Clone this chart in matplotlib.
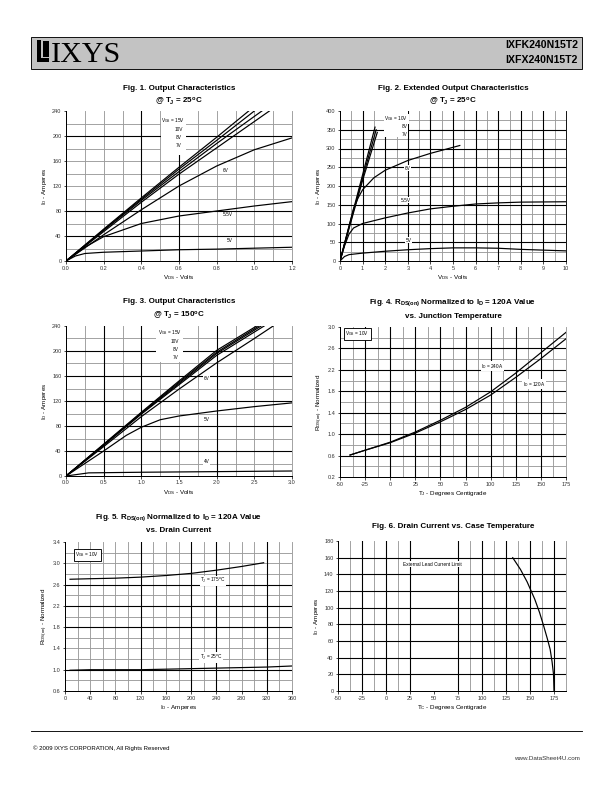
import numpy as np
import matplotlib
matplotlib.use("Agg")
import matplotlib.pyplot as plt
from matplotlib import font_manager
from matplotlib.patches import Rectangle

W, H = 612, 792

names = {f.name for f in font_manager.fontManager.ttflist}
NARROW = 'Liberation Sans Narrow' in names
SANS = 'Liberation Sans Narrow' if NARROW else 'Liberation Sans'
plt.rcParams['font.family'] = [SANS, 'Liberation Sans', 'DejaVu Sans']
plt.rcParams['mathtext.fontset'] = 'custom'
plt.rcParams['mathtext.rm'] = 'Liberation Sans'
plt.rcParams['mathtext.default'] = 'regular'

########## data ##########

# Fig 1 - output characteristics, Tj = 25C
f1_vds = {
    '15V': [0, 0.2, 0.4, 0.6, 0.8, 0.97],
    '10V': [0, 0.2, 0.4, 0.6, 0.8, 1.0],
    '8V': [0, 0.2, 0.4, 0.6, 0.8, 1.04],
    '7V': [0, 0.2, 0.4, 0.6, 0.8, 1.08],
    '6V': [0, 0.2, 0.4, 0.6, 0.8, 1.0, 1.2],
    '5.5V': [0, 0.1, 0.2, 0.4, 0.6, 0.8, 1.0, 1.2],
    '5V': [0, 0.05, 0.1, 0.2, 0.4, 0.6, 0.8, 1.0, 1.2],
}
f1_id = {
    '15V': [0, 51, 101, 150, 198, 240],
    '10V': [0, 50, 99, 147, 193, 240],
    '8V': [0, 49, 97, 143, 188, 240],
    '7V': [0, 47, 94, 139, 181, 240],
    '6V': [0, 42, 82, 120, 152, 178, 197],
    '5.5V': [0, 22, 39, 60, 72, 80, 88, 95],
    '5V': [0, 8, 12, 14, 16, 18, 19, 20.5, 22],
}

# Fig 2 - extended output characteristics, Tj = 25C
f2_vds = {
    '10V': [0, 0.5, 1.0, 1.55],
    '8V': [0, 0.5, 1.0, 1.6],
    '7V': [0, 0.5, 1.0, 1.65],
    '6V': [0, 0.3, 0.6, 0.8, 1.0, 1.5, 2.0, 3.0, 4.0, 5.3],
    '5.5V': [0, 0.2, 0.4, 0.6, 1.0, 2.0, 3.0, 4.0, 5.0, 6.0, 7.0, 8.0, 10.0],
    '5V': [0, 0.2, 0.4, 1.0, 2.0, 3.0, 4.0, 5.0, 6.0, 7.0, 8.0, 9.0, 10.0],
}
f2_id = {
    '10V': [0, 115, 230, 357],
    '8V': [0, 112, 222, 350],
    '7V': [0, 108, 215, 343],
    '6V': [0, 70, 140, 168, 190, 222, 242, 268, 287, 308],
    '5.5V': [0, 40, 72, 88, 100, 115, 128, 139, 146, 152, 155, 157, 158],
    '5V': [0, 12, 17, 21, 26, 30, 33, 35, 35, 34, 31, 29, 27],
}

# Fig 3 - output characteristics, Tj = 150C
f3_vds = {
    '15V': [0, 0.5, 1.0, 1.5, 2.0, 2.53],
    '10V': [0, 0.5, 1.0, 1.5, 2.0, 2.56],
    '8V': [0, 0.5, 1.0, 1.5, 2.0, 2.59],
    '7V': [0, 0.5, 1.0, 1.5, 2.0, 2.63],
    '6V': [0, 0.5, 1.0, 1.5, 2.0, 2.5, 2.75],
    '5V': [0, 0.5, 0.8, 1.0, 1.25, 1.5, 2.0, 2.5, 3.0],
    '4V': [0, 0.3, 1.0, 2.0, 3.0],
}
f3_id = {
    '15V': [0, 51, 102, 152, 201, 240],
    '10V': [0, 50, 101, 150, 198, 240],
    '8V': [0, 50, 100, 148, 196, 240],
    '7V': [0, 49, 99, 146, 193, 240],
    '6V': [0, 47, 95, 139, 181, 220, 240],
    '5V': [0, 40, 65, 78, 90, 96, 104, 111, 117],
    '4V': [0, 5, 6, 7, 8],
}

# Fig 4 - Rds(on) vs junction temperature
f4_tj = [-40, -25, 0, 25, 50, 75, 100, 125, 150, 175]
f4_240a = [0.61, 0.70, 0.85, 1.04, 1.26, 1.50, 1.79, 2.14, 2.52, 2.90]
f4_120a = [0.61, 0.70, 0.84, 1.02, 1.23, 1.46, 1.73, 2.06, 2.41, 2.78]

# Fig 5 - Rds(on) vs drain current
f5_id_175 = [8, 40, 80, 120, 160, 200, 240, 280, 315]
f5_r_175 = [2.70, 2.71, 2.72, 2.74, 2.77, 2.81, 2.87, 2.94, 3.01]
f5_id_25 = [8, 40, 80, 120, 160, 200, 240, 280, 320, 360]
f5_r_25 = [0.99, 1.00, 1.00, 1.00, 1.01, 1.02, 1.03, 1.04, 1.05, 1.07]

# Fig 6 - drain current vs case temperature
f6_tc = [132, 140, 147, 155, 160, 164, 168, 171, 173, 174.5, 175]
f6_id = [160, 146, 131, 110, 94, 79, 63, 50, 35, 20, 0]

########## helpers ##########

fig = plt.figure(figsize=(W / 72, H / 72), dpi=72)


def px_axes(x0, y0, x1, y1):
    return fig.add_axes([x0 / W, 1 - y1 / H, (x1 - x0) / W, (y1 - y0) / H])


def setup(ax, xlim, ylim, xticks, yticks, xlabels, ylabels,
          bx, gx, by, gy, xlabel, ylabel):
    ax.set_xlim(*xlim)
    ax.set_ylim(*ylim)
    for v in gx:
        ax.axvline(v, color='#9a9a9a', lw=0.9, zorder=0)
    for v in gy:
        ax.axhline(v, color='#9a9a9a', lw=0.9, zorder=0)
    for v in bx:
        ax.axvline(v, color='black', lw=1.1, zorder=0.5)
    for v in by:
        ax.axhline(v, color='black', lw=1.1, zorder=0.5)
    ax.set_xticks(xticks)
    ax.set_xticklabels(xlabels)
    ax.set_yticks(yticks)
    ax.set_yticklabels(ylabels)
    ax.tick_params(labelsize=5.5, length=2.5, width=0.7, pad=2,
                   colors='black', labelcolor='#333333')
    ax.spines['top'].set_visible(False)
    ax.spines['right'].set_color('#9a9a9a')
    ax.spines['right'].set_linewidth(0.9)
    for s in ('left', 'bottom'):
        ax.spines[s].set_linewidth(1.0)
    ax.set_xlabel(xlabel, fontsize=6.2, labelpad=3)
    ax.set_ylabel(ylabel, fontsize=6.2, labelpad=3)


def label(ax, x, y, s, ha='center', box=False):
    kw = dict(facecolor='white', edgecolor='none', pad=0.6)
    if box:
        kw = dict(facecolor='white', edgecolor='black', lw=0.9, pad=1.5)
    ax.text(x, y, s, fontsize=4.8, ha=ha, va='center', zorder=3, bbox=kw)


def title(x, y, s):
    fig.text(x / W, 1 - y / H, s, fontsize=9.6 if NARROW else 8.0,
             fontweight='bold', ha='center', va='center')


def fmt(vals, n):
    return [f'{v:.{n}f}' for v in vals]


LW = 1.2

########## header / footer ##########

fig.patches.append(Rectangle((31 / W, 1 - 69 / H), 551 / W, 32 / H,
                             transform=fig.transFigure, facecolor='#c3c3c3',
                             edgecolor='black', lw=0.9))
fig.patches.append(Rectangle((37 / W, 1 - 62 / H), 12 / W, 22 / H,
                             transform=fig.transFigure, facecolor='black', lw=0))
fig.patches.append(Rectangle((41 / W, 1 - 58 / H), 8 / W, 18 / H,
                             transform=fig.transFigure, facecolor='#c3c3c3', lw=0))
fig.patches.append(Rectangle((42.5 / W, 1 - 57 / H), 6.5 / W, 16 / H,
                             transform=fig.transFigure, facecolor='black', lw=0))
fig.text(51 / W, 1 - 62 / H, 'IXYS', fontsize=30, family='Liberation Serif',
         ha='left', va='baseline')
fig.text(578 / W, 1 - 45 / H, 'IXFK240N15T2', fontsize=10.5, fontweight='bold',
         ha='right', va='center')
fig.text(578 / W, 1 - 60 / H, 'IXFX240N15T2', fontsize=10.5, fontweight='bold',
         ha='right', va='center')

fig.add_artist(plt.Line2D([31 / W, 582 / W], [1 - 731 / H, 1 - 731 / H],
                          color='black', lw=0.9))
fig.text(33 / W, 1 - 748 / H, '\u00a9 2009 IXYS CORPORATION, All Rights Reserved',
         fontsize=6, family='Liberation Sans', ha='left', va='center')
fig.text(580 / W, 1 - 758 / H, 'www.DataSheet4U.com', fontsize=6.2,
         family='Liberation Sans', color='#333333', ha='right', va='center')

########## Fig 1 ##########

ax1 = px_axes(66, 111, 292, 261)
x1t = np.arange(0, 1.21, 0.2)
y1t = np.arange(0, 241, 40)
setup(ax1, (0, 1.2), (0, 240), x1t, y1t, fmt(x1t, 1), fmt(y1t, 0),
      [0.4, 0.6], [0.1, 0.2, 0.3, 0.5, 0.7, 0.8, 0.9, 1.0, 1.1],
      [40, 80, 200], [20, 60, 100, 120, 140, 160, 180, 220],
      '$V_{DS}$ - Volts', '$I_D$ - Amperes')
for k in f1_vds:
    ax1.plot(f1_vds[k], f1_id[k], color='black', lw=LW, zorder=2)
ax1.add_patch(Rectangle((0.505, 170), 0.13, 70, facecolor='white', lw=0, zorder=1))
label(ax1, 0.57, 225, '$V_{GS}$ = 15V')
label(ax1, 0.6, 211, '10V')
label(ax1, 0.6, 198, '8V')
label(ax1, 0.6, 185, '7V')
label(ax1, 0.85, 144, '6V')
label(ax1, 0.86, 74, '5.5V')
label(ax1, 0.87, 32, '5V')
title(179, 88, 'Fig. 1. Output Characteristics')
title(179, 101, '@ T$_J$ = 25$^o$C')

########## Fig 2 ##########

ax2 = px_axes(340, 111, 566, 261)
x2t = np.arange(0, 11, 1)
y2t = np.arange(0, 401, 50)
setup(ax2, (0, 10), (0, 400), x2t, y2t, fmt(x2t, 0), fmt(y2t, 0),
      list(range(1, 10)), list(np.arange(0.5, 10, 1.0)),
      list(range(50, 400, 50)), list(range(25, 400, 50)),
      '$V_{DS}$ - Volts', '$I_D$ - Amperes')
ax2.spines['right'].set_color('black')
ax2.add_patch(Rectangle((1.95, 330), 1.05, 70, facecolor='white', lw=0, zorder=1))
for k in f2_vds:
    ax2.plot(f2_vds[k], f2_id[k], color='black', lw=LW, zorder=2)
label(ax2, 2.5, 379, '$V_{GS}$ = 10V')
label(ax2, 2.85, 358, '8V')
label(ax2, 2.85, 337, '7V')
label(ax2, 3.0, 247, '6V')
label(ax2, 2.9, 162, '5.5V')
label(ax2, 3.05, 55, '5V')
title(453, 88, 'Fig. 2. Extended Output Characteristics')
title(453, 101, '@ T$_J$ = 25$^o$C')

########## Fig 3 ##########

ax3 = px_axes(66, 326, 292, 476)
x3t = np.arange(0, 3.01, 0.5)
y3t = np.arange(0, 241, 40)
setup(ax3, (0, 3), (0, 240), x3t, y3t, fmt(x3t, 1), fmt(y3t, 0),
      [0.5, 1.0, 2.0], [0.25, 0.75, 1.25, 1.5, 1.75, 2.25, 2.5, 2.75],
      [40, 80, 120, 160, 200], [20, 60, 100, 140, 180, 220],
      '$V_{DS}$ - Volts', '$I_D$ - Amperes')
ax3.add_patch(Rectangle((1.2, 182), 0.35, 58, facecolor='white', lw=0, zorder=1))
for k in f3_vds:
    ax3.plot(f3_vds[k], f3_id[k], color='black', lw=LW, zorder=2)
label(ax3, 1.38, 229, '$V_{GS}$ = 15V')
label(ax3, 1.45, 215, '10V')
label(ax3, 1.45, 202, '8V')
label(ax3, 1.45, 189, '7V')
label(ax3, 1.87, 156, '6V')
label(ax3, 1.87, 90, '5V')
label(ax3, 1.87, 23, '4V')
title(179, 302, 'Fig. 3. Output Characteristics')
title(179, 315, '@ T$_J$ = 150$^o$C')

########## Fig 4 ##########

ax4 = px_axes(340, 327, 566, 477)
x4t = np.arange(-50, 176, 25)
y4t = np.arange(0.2, 3.01, 0.4)
setup(ax4, (-50, 175), (0.2, 3.0), x4t, y4t, fmt(x4t, 0), fmt(y4t, 1),
      list(range(-25, 175, 25)), list(np.arange(-37.5, 175, 25)),
      list(np.arange(0.6, 2.7, 0.4)), list(np.arange(0.4, 2.9, 0.4)),
      '$T_J$ - Degrees Centigrade', '$R_{DS(on)}$ - Normalized')
ax4.plot(f4_tj, f4_240a, color='black', lw=LW, zorder=2)
ax4.plot(f4_tj, f4_120a, color='black', lw=LW, zorder=2)
label(ax4, -33, 2.87, '$V_{GS}$ = 10V', box=True)
label(ax4, 102, 2.27, '$I_D$ = 240A')
label(ax4, 143, 1.93, '$I_D$ = 120A')
title(453, 303, 'Fig. 4. R$_{DS(on)}$ Normalized to I$_D$ = 120A Value')
title(453, 316, 'vs. Junction Temperature')

########## Fig 5 ##########

ax5 = px_axes(65, 542, 292, 691)
x5t = np.arange(0, 361, 40)
y5t = np.arange(0.6, 3.41, 0.4)
setup(ax5, (0, 360), (0.6, 3.4), x5t, y5t, fmt(x5t, 0), fmt(y5t, 1),
      [120, 200, 240, 320],
      [20, 40, 60, 80, 100, 140, 160, 180, 220, 260, 280, 300, 340],
      [1.0, 1.8, 2.2, 2.6], [0.8, 1.2, 1.4, 1.6, 2.0, 2.4, 2.8, 3.0, 3.2],
      '$I_D$ - Amperes', '$R_{DS(on)}$ - Normalized')
ax5.plot(f5_id_175, f5_r_175, color='black', lw=LW, zorder=2)
ax5.plot(f5_id_25, f5_r_25, color='black', lw=LW, zorder=2)
label(ax5, 35, 3.16, '$V_{GS}$ = 10V', box=True)
label(ax5, 235, 2.67, '$T_J$ = 175$^o$C')
label(ax5, 232, 1.23, '$T_J$ = 25$^o$C')
title(179, 518, 'Fig. 5. R$_{DS(on)}$ Normalized to I$_D$ = 120A Value')
title(179, 531, 'vs. Drain Current')

########## Fig 6 ##########

ax6 = px_axes(338, 541, 566, 691)
x6t = np.arange(-50, 176, 25)
y6t = np.arange(0, 181, 20)
setup(ax6, (-50, 187.5), (0, 180), x6t, y6t, fmt(x6t, 0), fmt(y6t, 0),
      [-25, 0, 25, 75, 100, 125, 150, 175],
      [-37.5, -12.5, 12.5, 87.5, 112.5, 137.5, 162.5],
      list(range(20, 161, 20)), [],
      '$T_C$ - Degrees Centigrade', '$I_D$ - Amperes')
ax6.plot(f6_tc, f6_id, color='black', lw=LW, zorder=2)
label(ax6, 48, 152, 'External Lead Current Limit')
title(453, 526, 'Fig. 6. Drain Current vs. Case Temperature')

fig.savefig('out.png', dpi=72)
